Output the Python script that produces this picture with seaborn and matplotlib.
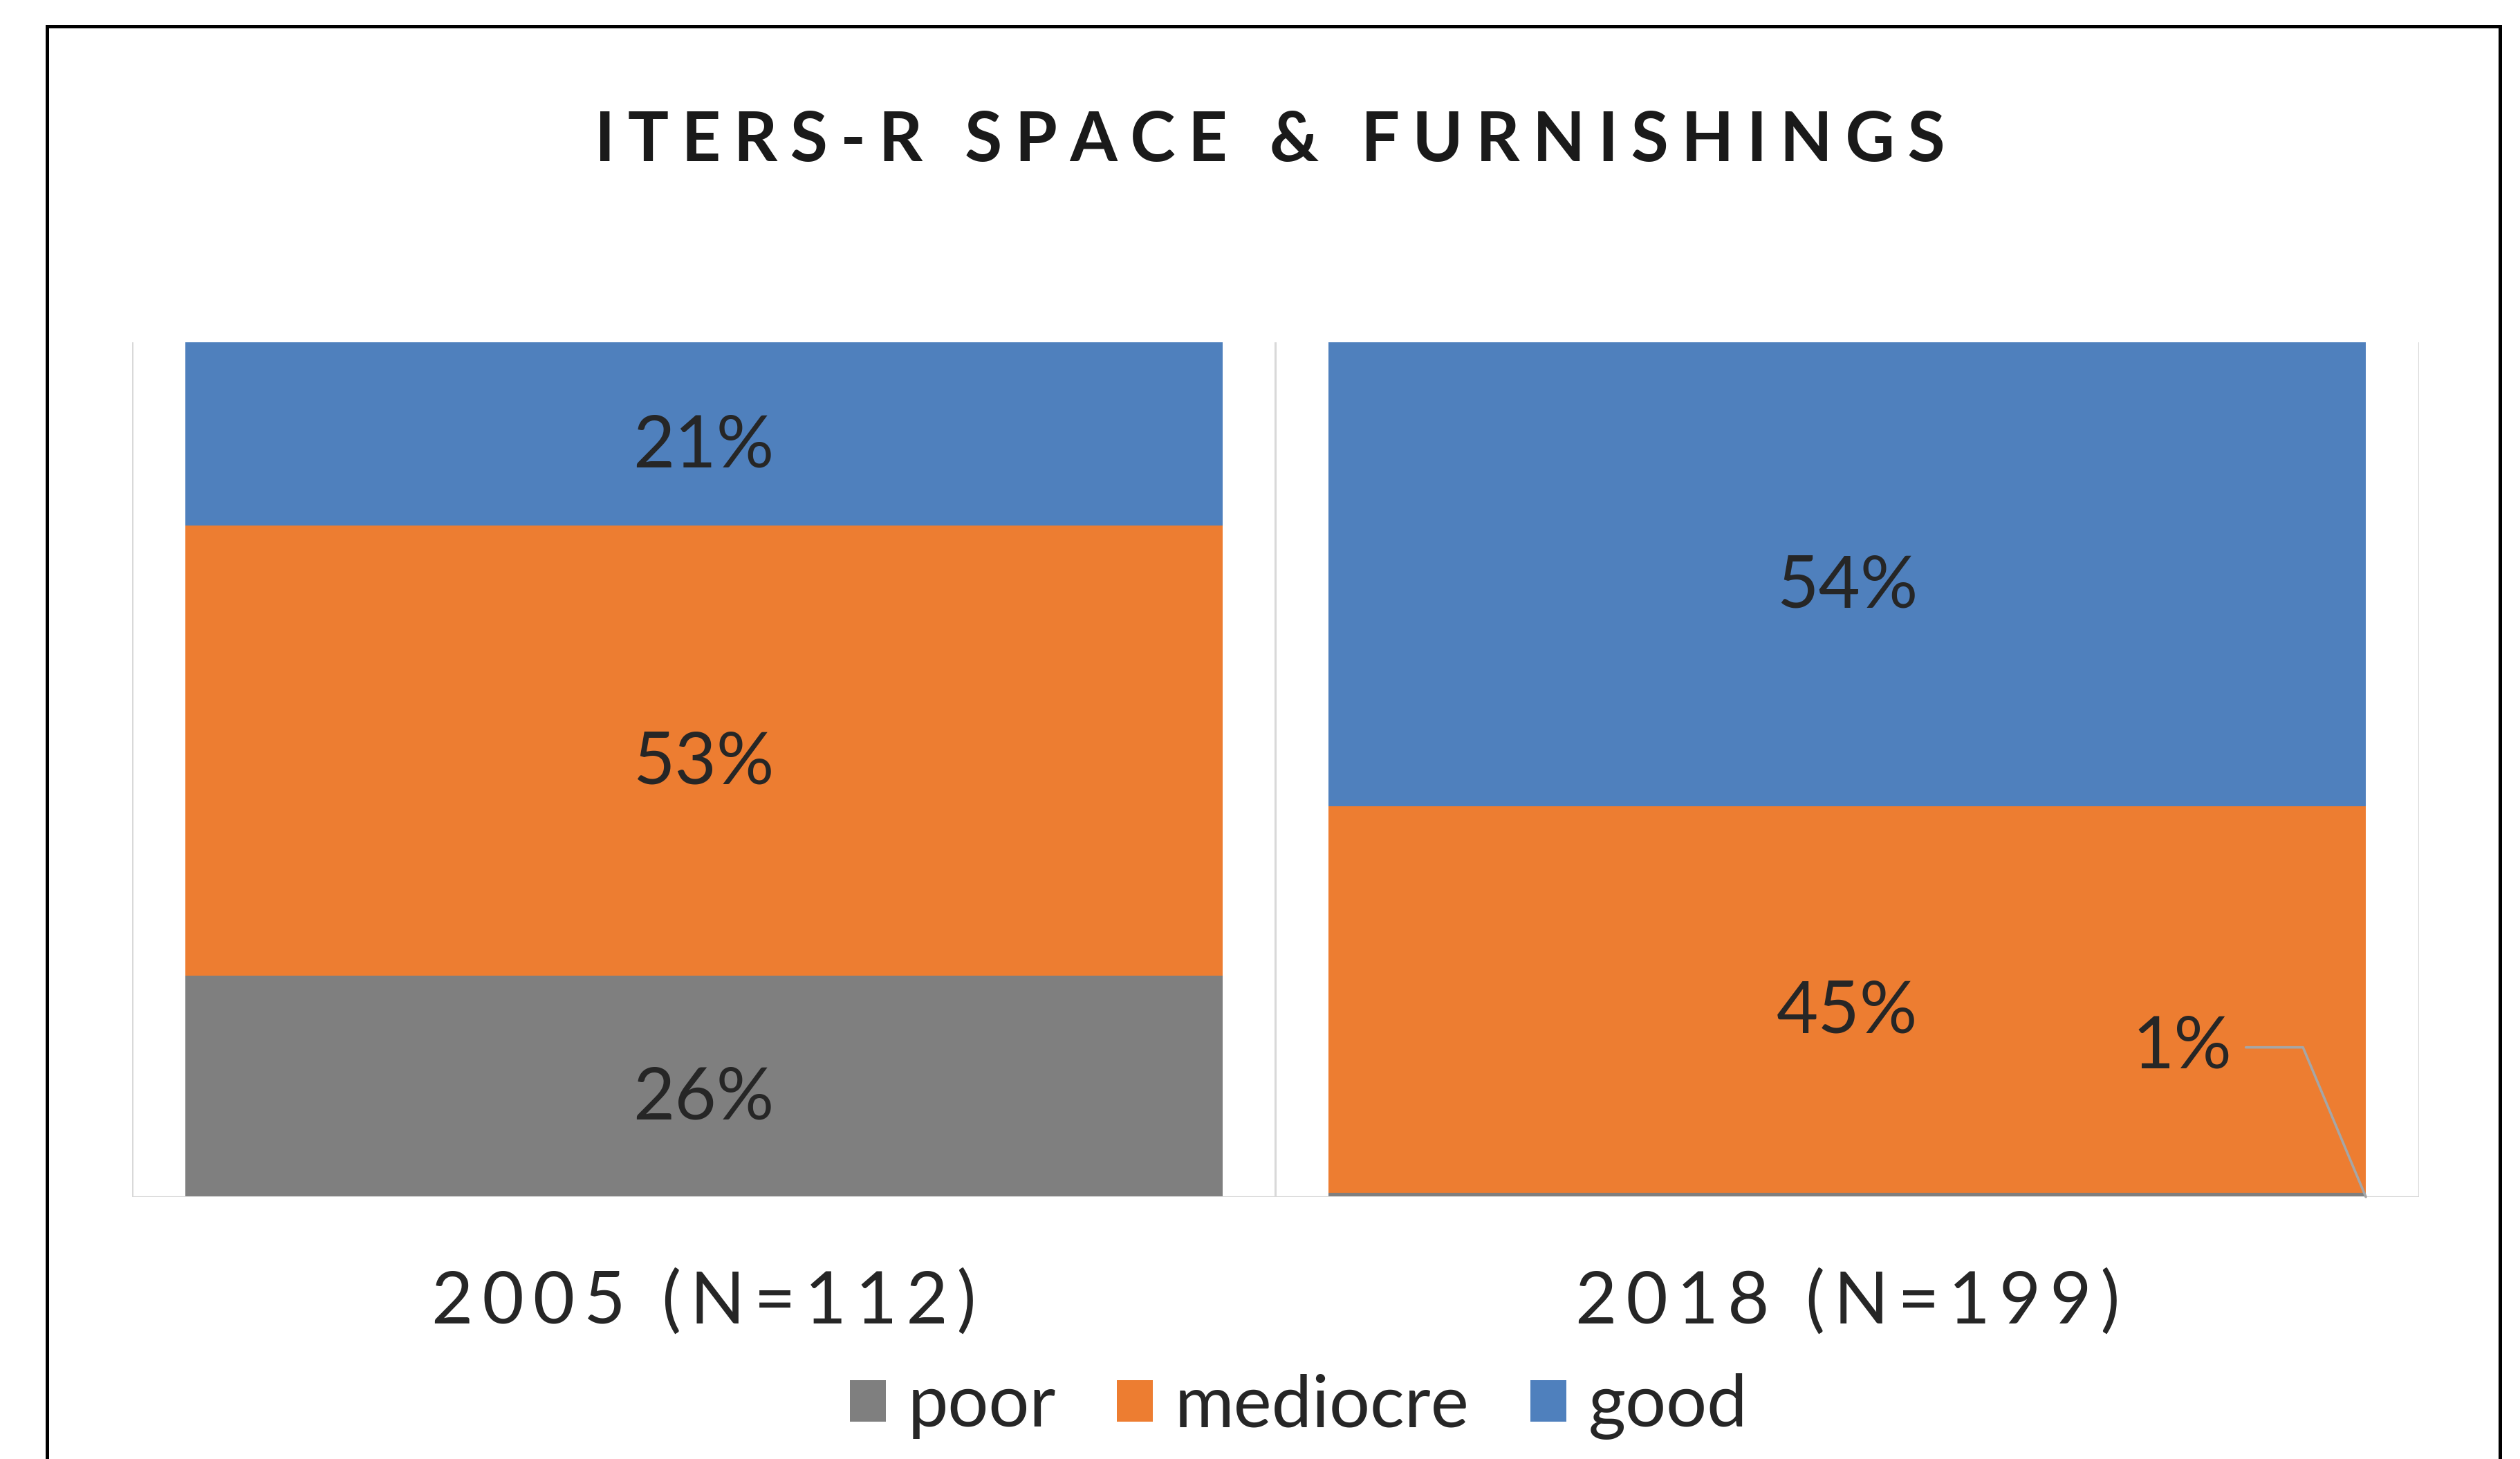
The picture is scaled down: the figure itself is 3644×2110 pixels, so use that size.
import matplotlib
matplotlib.use("Agg")
import matplotlib.pyplot as plt
import seaborn as sns
import pandas as pd
from matplotlib.patches import Rectangle, Patch

# ---- data ----
years = ["2005 (N=112)", "2018 (N=199)"]
series_names = ["poor", "mediocre", "good"]
poor = [25.9, 0.5]
mediocre = [52.7, 45.2]
good = [21.4, 54.3]
pct_labels_poor = ["26%", "1%"]
pct_labels_mediocre = ["53%", "45%"]
pct_labels_good = ["21%", "54%"]
title = "ITERS-R SPACE & FURNISHINGS"

colors = {"poor": "#7F7F7F", "mediocre": "#ED7D31", "good": "#4F80BD"}

sns.set_theme(style="white")
plt.rcParams["font.family"] = ["Lato", "DejaVu Sans"]

W, H = 3644, 2110
DPI = 100
fig = plt.figure(figsize=(W / DPI, H / DPI), dpi=DPI)
fig.patch.set_facecolor("white")

ax_l, ax_r, ax_t, ax_b = 191, 3498, 495, 1731
ax = fig.add_axes([ax_l / W, 1 - ax_b / H, (ax_r - ax_l) / W, (ax_b - ax_t) / H])

df = pd.DataFrame({"year": years, "poor": poor, "mediocre": mediocre, "good": good})
df["c_poor"] = df["poor"]
df["c_med"] = df["poor"] + df["mediocre"]
df["c_good"] = df["c_med"] + df["good"]

bw = 0.907
sns.barplot(data=df, x="year", y="c_good", color=colors["good"], width=bw,
            saturation=1, ax=ax, linewidth=0)
sns.barplot(data=df, x="year", y="c_med", color=colors["mediocre"], width=bw,
            saturation=1, ax=ax, linewidth=0)
sns.barplot(data=df, x="year", y="c_poor", color=colors["poor"], width=bw,
            saturation=1, ax=ax, linewidth=0)

ax.set_xlim(-0.5, 1.5)
ax.set_ylim(0, 100)
ax.set_xlabel("")
ax.set_ylabel("")
ax.set_yticks([])
ax.set_xticks([])
for s in ax.spines.values():
    s.set_visible(False)
ax.set_facecolor("none")

# gridlines (category separators) and base line
grid_c = "#D9D9D9"
for xv in [-0.5, 0.5, 1.5]:
    ax.axvline(xv, color=grid_c, lw=2.2, zorder=0)
ax.axhline(0, color=grid_c, lw=2.2, zorder=3)

# segment labels
txt_c = "#262626"
fs = 75
for i in range(len(years)):
    p, m, g = poor[i], mediocre[i], good[i]
    if p >= 3:
        ax.text(i, p / 2 - 1.5, pct_labels_poor[i], ha="center", va="center",
                fontsize=fs, color=txt_c)
    ax.text(i, p + m / 2 - 1.5, pct_labels_mediocre[i], ha="center", va="center",
            fontsize=fs, color=txt_c)
    ax.text(i, p + m + g / 2 - 1.5, pct_labels_good[i], ha="center", va="center",
            fontsize=fs, color=txt_c)

# small "1%" label with leader line
ax.annotate(pct_labels_poor[1], xy=(1 + bw / 2, 0), xytext=(1.293, 17.5),
            textcoords="data", ha="center", va="center", fontsize=fs, color=txt_c,
            arrowprops=dict(arrowstyle="-", color="#A6A6A6", lw=2.6,
                            connectionstyle="angle,angleA=0,angleB=112.8,rad=0",
                            shrinkA=12, shrinkB=0))

# category labels with letter spacing
sp = "\u2009"
for i, y in enumerate(years):
    ax.text(i, -(1883 - ax_b) / (ax_b - ax_t), sp.join(list(y)),
            transform=ax.get_xaxis_transform(), ha="center", va="center",
            fontsize=fs, color="#262626")

# title with letter spacing
fig.text(1836 / W, 1 - 205 / H, "\u2009\u200a".join(list(title)), ha="center", va="center",
         fontsize=71, fontweight="bold", color="#1a1a1a")

# legend
handles = [Patch(facecolor=colors[n], edgecolor="none", label=n) for n in series_names]
fig.legend(handles=handles, loc="center", bbox_to_anchor=(1878 / W, 1 - 2034 / H),
           ncol=3, frameon=False, fontsize=fs, handlelength=0.5, handleheight=0.5,
           handletextpad=0.3, columnspacing=0.85, labelcolor="#262626")

# outer frame
fig.add_artist(Rectangle((68 / W, -0.05), (3615 - 68) / W, 0.05 + 1 - 38 / H,
                         transform=fig.transFigure, fill=False, edgecolor="black",
                         linewidth=3.6, clip_on=False))

fig.savefig("out.png", dpi=DPI, facecolor="white")
